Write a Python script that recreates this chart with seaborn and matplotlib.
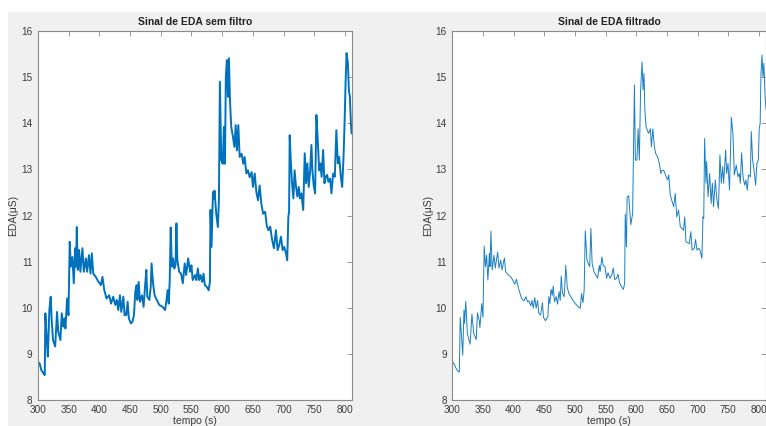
import matplotlib
matplotlib.use("Agg")
import matplotlib.pyplot as plt
import seaborn as sns
import pandas as pd
from matplotlib.patches import Rectangle

sns.set_style("white")
plt.rcParams["font.family"] = ["Liberation Sans", "DejaVu Sans"]

# raw signal (time in s, EDA in uS)
raw_t = [300, 302.7, 305.4, 308.7, 311, 312, 314, 316, 318.5, 320.7, 322.3, 324.5, 328, 331, 333,
         336.5, 338.7, 341, 343, 344.7, 347.4, 349.6, 351.7, 353.4, 356, 358.3, 360.5, 362, 363.2,
         364.8, 367, 369, 372.4, 374.6, 378, 380, 383, 385.5, 387.7, 390, 394, 398.6, 402.4, 405,
         408, 411.7, 416, 419, 422.6, 425.8, 428.5, 430.7, 433.5, 435.6, 439, 441, 443.8, 446, 448,
         451.4, 454, 456.3, 458.5, 460.7, 461.8, 464, 466, 469.4, 472, 474.3, 476.5, 478, 481.4,
         483.6, 485, 487.4, 490, 493.4, 497.7, 503, 507, 509.7, 511.3, 513, 514.6, 516.2, 518, 520,
         522, 524, 525.5, 527, 530, 533, 535.9, 539, 541.3, 544.6, 547.8, 550, 552, 556, 558, 560.4,
         562.5, 564.7, 567.5, 569.6, 571.8, 575, 578, 580, 581, 582.7, 585, 586.5, 587.6, 590.3,
         593, 594.7, 596.3, 598.5, 601, 602.8, 604.5, 606, 607.7, 609.4, 611, 612.7, 614.8, 617.6,
         620, 622, 624, 626.3, 628.5, 631.7, 634.4, 636.6, 639.4, 642, 644.8, 648, 650.2, 653,
         655.7, 658.4, 661, 663.9, 666.6, 670, 672.9, 675.6, 678.3, 681, 684.3, 687.6, 690.3, 693,
         695.8, 698.5, 701, 704, 706, 707.8, 709, 710, 712, 713.8, 716, 718, 720.3, 722.5, 724.7,
         726.8, 729, 732, 734.5, 736.7, 738.8, 741, 743.2, 745.4, 747, 749, 751.4, 753.5, 755.7,
         758, 760, 762, 764.5, 766.6, 768.8, 771, 773, 775.9, 778, 780.8, 783.5, 786, 788.4, 790.6,
         793.3, 795.5, 797.7, 799.3, 801, 802.6, 804.8, 806.4, 808, 809.7, 810.8]
raw_eda = [8.83, 8.79, 8.65, 8.58, 8.54, 9.88, 9.37, 8.94, 9.95, 10.24, 9.73, 9.30, 9.16, 9.91, 9.48,
           9.30, 9.88, 9.59, 9.77, 9.55, 10.20, 9.84, 11.43, 10.89, 11.10, 10.53, 11.29, 10.89, 11.75,
           10.82, 11.25, 10.78, 11.29, 10.78, 11.07, 10.78, 11.14, 10.74, 11.18, 10.74, 10.67, 10.56,
           10.49, 10.67, 10.38, 10.20, 10.27, 10.09, 10.24, 10.06, 10.17, 9.95, 10.27, 9.91, 10.24,
           9.84, 9.84, 10.13, 9.77, 9.66, 9.70, 9.84, 10.35, 10.49, 10.17, 10.56, 10.13, 10.27, 10.02,
           10.45, 10.82, 10.24, 10.17, 10.45, 10.96, 10.53, 10.27, 10.17, 10.06, 10.02, 9.95, 10.20,
           10.38, 10.09, 10.60, 11.74, 10.89, 11.07, 10.85, 10.92, 11.83, 11.03, 10.78, 10.74, 10.53,
           10.96, 10.71, 11.07, 10.78, 10.92, 10.60, 10.71, 10.60, 10.85, 10.60, 10.71, 10.56, 10.74,
           10.49, 10.45, 10.38, 10.56, 12.12, 11.32, 12.51, 12.36, 12.54, 12.04, 11.75, 12.33, 14.90,
           13.20, 13.12, 13.92, 13.12, 15.01, 15.37, 14.57, 15.41, 14.50, 13.92, 13.70, 13.49, 13.96,
           13.41, 13.96, 13.27, 13.34, 13.12, 13.27, 12.91, 12.98, 12.83, 12.94, 12.62, 12.91, 12.51,
           12.33, 12.65, 12.25, 12.04, 12.08, 11.76, 11.68, 11.76, 11.50, 11.29, 11.68, 11.25, 11.36,
           11.54, 11.25, 11.32, 11.18, 11.03, 11.97, 12.08, 13.74, 13.13, 12.70, 12.37, 12.98, 12.62,
           12.41, 12.62, 12.37, 12.48, 12.12, 13.35, 12.70, 13.13, 12.62, 12.95, 13.53, 12.98, 12.66,
           12.48, 14.18, 13.64, 12.98, 13.13, 12.84, 13.42, 12.70, 12.84, 12.88, 12.73, 12.80, 12.48,
           12.91, 12.84, 13.85, 13.13, 13.27, 12.84, 12.62, 13.27, 13.96, 14.86, 15.52, 15.30, 14.72,
           14.58, 14.00, 13.78]

# filtered signal
filt_t = [300, 302, 306, 310, 311.4, 313, 317, 319, 320, 322, 324.5, 329, 332, 335, 339, 341, 344,
          345, 348, 350, 352, 354, 356, 358, 360.5, 361.5, 363, 365, 368, 370, 374, 376, 379, 381,
          385, 387, 391.5, 396, 400, 402, 404.6, 408, 413, 417, 420, 422.5, 425, 428, 430, 432,
          434.5, 436.7, 439, 441, 444, 447, 448.7, 452, 454, 455.8, 457.4, 459, 461, 463, 464.5,
          466.7, 469.4, 471.6, 474, 476, 477.6, 479.7, 482.5, 485, 487.4, 490, 495, 500.4, 506.4,
          508.6, 510.8, 513, 515, 516.8, 519.5, 521.7, 524, 526, 528, 531, 534, 537, 539.7, 541,
          544, 546, 549, 551.6, 554, 557, 560, 562.5, 564.7, 568, 570, 573, 576.7, 579, 581, 582,
          584, 585, 587.6, 589, 591, 594, 597, 598.5, 601, 603, 605, 607, 609.4, 611, 612.6, 614,
          616, 620, 623, 624.6, 627, 629.5, 631.7, 635, 637.7, 640, 642, 644.6, 651, 653, 655.4,
          661, 663.6, 666, 669, 671.7, 677, 679, 681, 686.4, 689, 691, 694.6, 696.7, 699, 702, 704,
          707, 708.7, 710, 711.4, 713.6, 714.7, 717, 719.6, 722, 724, 726, 728.8, 731.5, 734,
          736.4, 738.6, 740.8, 742.4, 745.7, 747.3, 749.5, 752, 755, 757.6, 759.8, 763, 765.8, 768,
          769.6, 771.7, 774, 776.7, 778.8, 781, 783, 786, 787.5, 789.7, 792, 794.6, 796.7, 799,
          800.5, 802, 803.3, 805, 806.5, 808, 810, 811.5]
filt_eda = [8.79, 8.81, 8.69, 8.61, 8.61, 9.79, 8.97, 9.95, 9.66, 10.14, 9.44, 9.21, 9.86, 9.44, 9.31,
            9.89, 9.72, 9.57, 10.09, 9.79, 11.34, 10.89, 11.14, 10.60, 11.18, 10.89, 11.66, 10.82,
            11.14, 10.86, 11.21, 10.86, 11.03, 10.82, 11.08, 10.78, 10.71, 10.66, 10.56, 10.51,
            10.62, 10.42, 10.20, 10.15, 10.24, 10.13, 10.15, 10.04, 10.16, 9.99, 10.22, 9.99, 10.16,
            9.88, 9.84, 10.11, 9.79, 9.72, 9.77, 9.80, 10.24, 10.09, 10.40, 10.27, 10.47, 10.13,
            10.24, 10.08, 10.35, 10.16, 10.69, 10.31, 10.24, 10.92, 10.45, 10.31, 10.20, 10.09,
            10.01, 9.99, 10.31, 10.11, 10.38, 11.67, 11.05, 10.96, 10.89, 11.72, 10.96, 10.78, 10.71,
            10.64, 10.92, 10.78, 11.10, 10.92, 10.89, 10.64, 10.76, 10.64, 10.71, 10.86, 10.61,
            10.64, 10.73, 10.53, 10.44, 10.40, 10.53, 12.03, 11.32, 12.40, 12.43, 12.18, 11.80,
            12.04, 14.83, 13.20, 13.20, 13.88, 13.20, 14.72, 15.33, 14.72, 15.08, 14.28, 13.92,
            13.78, 13.88, 13.49, 13.88, 13.49, 13.34, 13.27, 13.12, 12.91, 12.98, 12.98, 12.77,
            12.88, 12.44, 12.19, 12.48, 11.97, 12.12, 11.76, 11.68, 11.97, 11.43, 11.39, 11.65,
            11.25, 11.29, 11.48, 11.25, 11.29, 11.25, 11.07, 11.97, 11.94, 13.67, 12.70, 13.17,
            12.41, 12.91, 12.26, 12.70, 12.19, 12.77, 12.33, 12.15, 13.31, 12.70, 13.06, 12.70,
            13.42, 12.91, 13.13, 12.55, 14.13, 13.78, 12.88, 13.09, 12.84, 12.91, 12.70, 13.36,
            12.84, 12.66, 12.77, 12.55, 12.88, 12.84, 13.82, 13.20, 12.98, 12.66, 13.13, 13.20,
            13.89, 14.00, 15.08, 15.48, 15.01, 15.30, 14.58, 14.30]

xticks = list(range(300, 801, 50))
yticks = list(range(8, 17))

raw = pd.DataFrame({"t": raw_t, "eda": raw_eda})
filt = pd.DataFrame({"t": filt_t, "eda": filt_eda})

line_color = "#0072BD"
axis_color = "#8a8a8a"
text_color = "#3c3c3c"

fig = plt.figure(figsize=(7.66, 4.26), dpi=100)
fig.patch.set_facecolor("white")
# grey figure window behind the two axes
fig.patches.append(Rectangle((8 / 766, 0), 1, (426 - 12) / 426, transform=fig.transFigure,
                             facecolor="#f0f0f0", edgecolor="none", zorder=-10))

ax1 = fig.add_axes([38 / 766, 26 / 426, 314 / 766, 369 / 426])
ax2 = fig.add_axes([452.3 / 766, 26 / 426, (766 - 452.3) / 766, 369 / 426])

sns.lineplot(data=raw, x="t", y="eda", ax=ax1, color=line_color, linewidth=1.4,
             estimator=None, sort=False)
sns.lineplot(data=filt, x="t", y="eda", ax=ax2, color="#1a7fc4", linewidth=0.7,
             estimator=None, sort=False)

titles = ["Sinal de EDA sem filtro", "Sinal de EDA filtrado"]
for ax, title in zip([ax1, ax2], titles):
    ax.set_facecolor("white")
    ax.set_xlim(300, 811.5)
    ax.set_ylim(8, 16)
    ax.set_xticks(xticks)
    ax.set_yticks(yticks)
    ax.tick_params(direction="in", length=3.5, width=0.6, colors=axis_color,
                   labelcolor=text_color, labelsize=7.2, top=True, right=True)
    ax.tick_params(axis="x", pad=3.5)
    ax.tick_params(axis="y", pad=4)
    for s in ax.spines.values():
        s.set_color(axis_color)
        s.set_linewidth(0.8)
        s.set_visible(True)
    ax.set_title(title, fontsize=7.5, fontweight="bold", color="#222222", pad=4)
    ax.set_xlabel("tempo (s)", fontsize=7.5, color=text_color, labelpad=1)
    ax.set_ylabel("EDA(μS)", fontsize=7.5, color=text_color, labelpad=2)

fig.savefig("out.png", dpi=100)
